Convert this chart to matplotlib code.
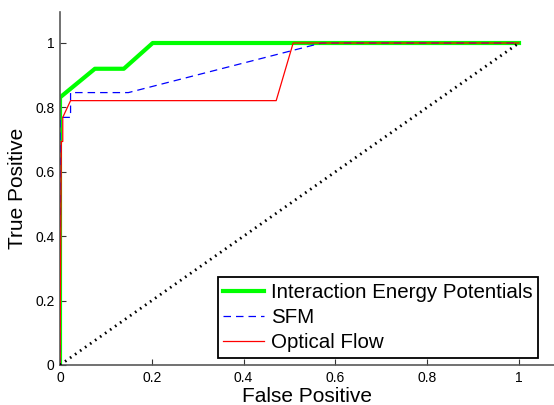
import matplotlib.pyplot as plt

plt.rcParams['font.family'] = ['Liberation Sans', 'DejaVu Sans']

# ROC points
iep_fp = [0.0, 0.0, 0.076, 0.139, 0.202, 1.0]
iep_tp = [0.0, 0.831, 0.920, 0.920, 1.0, 1.0]

sfm_fp = [0.0, 0.0, 0.023, 0.023, 0.149, 0.57, 1.0]
sfm_tp = [0.0, 0.769, 0.769, 0.846, 0.846, 1.0, 1.0]

of_fp = [0.0, 0.003, 0.006, 0.006, 0.023, 0.471, 0.508, 1.0]
of_tp = [0.0, 0.694, 0.694, 0.769, 0.821, 0.821, 1.0, 1.0]

chance = [0.0, 1.0]
ticks = [0, 0.2, 0.4, 0.6, 0.8, 1]
tick_labels = ['0', '0.2', '0.4', '0.6', '0.8', '1']

fig = plt.figure(figsize=(5.54, 4.05), dpi=100)
ax = fig.add_axes([60 / 554, 40 / 405, 494 / 554, 353 / 405])

ax.plot(iep_fp, iep_tp, color='#00ff00', lw=3, label='Interaction Energy Potentials', zorder=2)
ax.plot(sfm_fp, sfm_tp, color='#0000ff', lw=0.9, ls=(0, (6, 4)), label='SFM', zorder=3)
ax.plot(of_fp, of_tp, color='#ff0000', lw=0.9, label='Optical Flow', zorder=4)
ax.plot(chance, chance, color='black', lw=2, ls=(0, (0.6, 1.6)), zorder=5)

ax.set_xlim(0, 494 / 459)
ax.set_ylim(0, 353 / 322)
ax.set_xticks(ticks)
ax.set_xticklabels(tick_labels)
ax.set_yticks(ticks)
ax.set_yticklabels(tick_labels)

for s in ['top', 'right']:
    ax.spines[s].set_visible(False)
for s in ['left', 'bottom']:
    ax.spines[s].set_color('0.35')
    ax.spines[s].set_linewidth(1.2)
ax.tick_params(direction='in', length=4, width=0.8, color='0.2', labelsize=10, pad=4)

ax.set_xlabel('False Positive', fontsize=15, labelpad=2)
ax.set_ylabel('True Positive', fontsize=15, labelpad=6)

leg = ax.legend(loc='upper right', bbox_to_anchor=(538 / 554, 1 - 277 / 405),
                bbox_transform=fig.transFigure, borderaxespad=0, fontsize=14.8,
                fancybox=False, framealpha=1, edgecolor='black',
                handlelength=2.0, handletextpad=0.3, labelspacing=0.3,
                borderpad=0.28)
leg.get_frame().set_linewidth(1.3)

fig.savefig('out.png', dpi=100)
